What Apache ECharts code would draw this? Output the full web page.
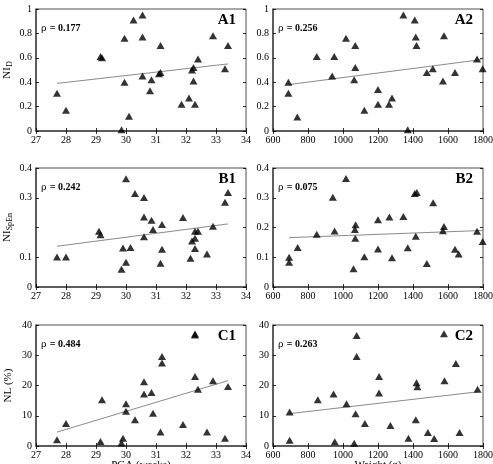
<!DOCTYPE html>
<html>
<head>
<meta charset="utf-8">
<script src="https://cdn.jsdelivr.net/npm/echarts@6/dist/echarts.min.js"></script>
<style>
	html, body { margin: 0; padding: 0; background: #fff; }
	#chart { width: 493px; height: 464px; }
</style>
</head>
<body>
<div id="chart"></div>
<script>
	// ---------- data ----------
	var pgaTicks = [27, 34, 1];
	var weightTicks = [600, 1800, 200];

	// A1: NI_D vs PGA
	var a1X = [27.7, 28.0, 29.15, 29.2, 29.85, 29.95, 29.95, 30.1, 30.25, 30.55, 30.55, 30.55, 30.8, 30.85, 31.1, 31.15, 31.15, 31.85, 32.1, 32.2, 32.25, 32.25, 32.3, 32.4, 32.9, 33.3, 33.4];
	var a1Y = [0.31, 0.17, 0.61, 0.60, 0.01, 0.40, 0.76, 0.12, 0.91, 0.95, 0.77, 0.45, 0.33, 0.42, 0.47, 0.48, 0.70, 0.22, 0.27, 0.50, 0.52, 0.41, 0.22, 0.59, 0.78, 0.51, 0.70];
	var a1FitX = [27.7, 33.4];
	var a1FitY = [0.39, 0.55];

	// A2: NI_D vs weight
	var a2X = [688, 688, 739, 850, 938, 950, 1017, 1070, 1070, 1064, 1122, 1200, 1200, 1263, 1280, 1345, 1370, 1410, 1416, 1420, 1479, 1513, 1571, 1577, 1640, 1766, 1798];
	var a2Y = [0.40, 0.31, 0.115, 0.61, 0.45, 0.61, 0.76, 0.70, 0.52, 0.42, 0.17, 0.34, 0.22, 0.22, 0.27, 0.95, 0.01, 0.91, 0.77, 0.70, 0.48, 0.51, 0.41, 0.78, 0.48, 0.59, 0.51];
	var a2FitX = [688, 1790];
	var a2FitY = [0.38, 0.585];

	// B1: NI_SpEn vs PGA
	var b1X = [27.7, 28.0, 29.1, 29.15, 29.85, 29.9, 30.0, 30.0, 30.15, 30.3, 30.6, 30.6, 30.6, 30.85, 30.9, 31.2, 31.15, 31.2, 31.9, 32.15, 32.2, 32.3, 32.3, 32.3, 32.4, 32.7, 32.9, 33.3, 33.4];
	var b1Y = [0.101, 0.101, 0.187, 0.176, 0.060, 0.131, 0.083, 0.364, 0.133, 0.314, 0.301, 0.235, 0.169, 0.224, 0.193, 0.210, 0.080, 0.127, 0.234, 0.097, 0.155, 0.187, 0.164, 0.129, 0.187, 0.111, 0.204, 0.285, 0.318];
	var b1FitX = [27.7, 33.4];
	var b1FitY = [0.137, 0.212];

	// B2: NI_SpEn vs weight
	var b2X = [692, 692, 741, 850, 942, 952, 1017, 1060, 1068, 1072, 1070, 1122, 1200, 1200, 1265, 1280, 1345, 1370, 1410, 1422, 1416, 1479, 1515, 1571, 1577, 1640, 1661, 1766, 1798];
	var b2Y = [0.100, 0.083, 0.133, 0.177, 0.302, 0.188, 0.365, 0.061, 0.193, 0.209, 0.164, 0.102, 0.226, 0.128, 0.235, 0.098, 0.237, 0.132, 0.314, 0.318, 0.171, 0.079, 0.283, 0.189, 0.203, 0.127, 0.111, 0.187, 0.153];
	var b2FitX = [692, 1798];
	var b2FitY = [0.166, 0.190];

	// C1: NL (%) vs PGA
	var c1X = [27.7, 28.0, 29.15, 29.2, 29.9, 29.85, 30.0, 30.0, 30.3, 30.6, 30.6, 30.85, 30.9, 31.15, 31.2, 31.2, 31.9, 32.3, 32.3, 32.3, 32.4, 32.7, 32.9, 33.3, 33.4];
	var c1Y = [2.1, 7.4, 1.5, 15.3, 2.6, 1.0, 14.0, 11.5, 8.7, 21.2, 17.2, 17.7, 10.8, 4.6, 29.6, 27.4, 7.1, 37.0, 36.7, 23.0, 18.8, 4.6, 21.6, 2.6, 19.7];
	var c1FitX = [27.7, 33.4];
	var c1FitY = [4.6, 21.6];

	// C2: NL (%) vs weight
	var c2X = [695, 695, 856, 946, 953, 1020, 1064, 1072, 1078, 1078, 1125, 1206, 1206, 1271, 1374, 1416, 1420, 1425, 1485, 1521, 1577, 1580, 1645, 1666, 1769];
	var c2Y = [11.2, 1.9, 15.3, 17.2, 1.4, 14.0, 0.9, 10.7, 29.6, 36.5, 7.4, 23.0, 17.5, 6.8, 2.6, 8.7, 20.9, 19.6, 4.5, 2.5, 37.1, 21.6, 27.3, 4.5, 18.8];
	var c2FitX = [695, 1769];
	var c2FitY = [10.7, 17.9];

	var rhoTexts = ['0.177', '0.256', '0.242', '0.075', '0.484', '0.263'];
	var panelNames = ['A1', 'A2', 'B1', 'B2', 'C1', 'C2'];
	var xNames = ['PGA (weeks)', 'Weight (g)'];

	// ---------- layout ----------
	var serif = "'Liberation Serif', 'Times New Roman', serif";
	var cols = [{ left: 36, width: 210 }, { left: 273, width: 210 }];
	var rows = [{ top: 9, height: 122 }, { top: 168, height: 119 }, { top: 325, height: 121 }];
	var yRanges = [[0, 1, 0.2], [0, 0.4, 0.1], [0, 40, 10]];
	var yNames = [
		'{n|NI}{s|D}',
		'{n|NI}{s|SpEn}',
		'{n|NL (%)}'
	];

	var panels = [
		[a1X, a1Y, a1FitX, a1FitY],
		[a2X, a2Y, a2FitX, a2FitY],
		[b1X, b1Y, b1FitX, b1FitY],
		[b2X, b2Y, b2FitX, b2FitY],
		[c1X, c1Y, c1FitX, c1FitY],
		[c2X, c2Y, c2FitX, c2FitY]
	];

	function zip(xs, ys) {
		return xs.map(function(x, i) { return [x, ys[i]]; });
	}
	function plain(v) {
		return String(+v.toFixed(2));
	}

	var grid = [], xAxis = [], yAxis = [], series = [], graphic = [];
	var labelStyle = { color: '#000', fontFamily: serif, fontSize: 10, margin: 4 };
	var tickIn = { show: true, inside: true, length: 3, lineStyle: { color: '#000', width: 0.8 } };

	panels.forEach(function(p, i) {
		var r = Math.floor(i / 2), c = i % 2;
		var g = { left: cols[c].left, width: cols[c].width, top: rows[r].top, height: rows[r].height,
			outerBoundsMode: 'none', containLabel: false,
			show: true, borderColor: '#222', borderWidth: 0.8 };
		grid.push(g);
		var xt = c === 0 ? pgaTicks : weightTicks;
		var yr = yRanges[r];
		var hideB1 = (i === 2);

		var xi = xAxis.length;
		xAxis.push({
			type: 'value', gridIndex: i, min: xt[0], max: xt[1], interval: xt[2],
			splitLine: { show: false },
			axisLine: { show: true, lineStyle: { color: '#444', width: 1.5 } },
			axisTick: tickIn,
			axisLabel: Object.assign({}, labelStyle, { formatter: plain })
		});
		xAxis.push({
			type: 'value', gridIndex: i, position: 'top', min: xt[0], max: xt[1], interval: xt[2],
			splitLine: { show: false }, axisLine: { show: false },
			axisTick: tickIn, axisLabel: { show: false }
		});

		var yi = yAxis.length;
		yAxis.push({
			type: 'value', gridIndex: i, min: yr[0], max: yr[1], interval: yr[2],
			splitLine: { show: false },
			axisLine: { show: true, lineStyle: { color: '#444', width: 1.5 } },
			axisTick: tickIn,
			axisLabel: Object.assign({}, labelStyle, {
				formatter: function(v) {
					if (hideB1 && Math.abs(v - 0.2) < 1e-9) return '';
					return plain(v);
				}
			}),
			name: c === 0 ? yNames[r] : '',
			nameLocation: 'middle', nameGap: 22, nameRotate: 90,
			nameTextStyle: {
				color: '#000', fontFamily: serif,
				rich: {
					n: { fontFamily: serif, fontSize: 11, color: '#000' },
					s: { fontFamily: serif, fontSize: 8, color: '#000', verticalAlign: 'bottom', padding: [6, 0, 0, 0] }
				}
			}
		});
		yAxis.push({
			type: 'value', gridIndex: i, position: 'right', min: yr[0], max: yr[1], interval: yr[2],
			splitLine: { show: false }, axisLine: { show: false },
			axisTick: tickIn, axisLabel: { show: false }
		});

		series.push({
			type: 'line', xAxisIndex: xi, yAxisIndex: yi,
			data: zip(p[2], p[3]), symbol: 'none', silent: true,
			lineStyle: { color: '#8a8a8a', width: 1 }, z: 2
		});
		series.push({
			type: 'scatter', xAxisIndex: xi, yAxisIndex: yi,
			data: zip(p[0], p[1]), symbol: 'triangle', symbolSize: [8, 7],
			itemStyle: { color: '#000' }, z: 3
		});

		graphic.push({
			type: 'text', left: g.left + 5, top: g.top + 13,
			style: {
				text: '{r|ρ} {b|= ' + rhoTexts[i] + '}',
				rich: {
					r: { fontFamily: serif, fontSize: 11, fill: '#000' },
					b: { fontFamily: serif, fontSize: 10, fontWeight: 'bold', fill: '#000' }
				}
			}
		});
		graphic.push({
			type: 'text', right: 493 - (g.left + g.width) + 10, top: g.top + 4,
			style: { text: panelNames[i], fontFamily: serif, fontSize: 15, fontWeight: 'bold', fill: '#000' }
		});
		// x-axis titles under the bottom row, cut by the canvas edge as in the picture
		if (r === 2) {
			graphic.push({
				type: 'text', x: g.left + g.width / 2, y: g.top + g.height + 14,
				style: { text: xNames[c], fontFamily: serif, fontSize: 11, fill: '#000', align: 'center', verticalAlign: 'top' }
			});
		}
	});

	var chart = echarts.init(document.getElementById('chart'));
	chart.setOption({
		animation: false,
		backgroundColor: '#fff',
		grid: grid,
		xAxis: xAxis,
		yAxis: yAxis,
		series: series,
		graphic: graphic
	});
</script>
</body>
</html>
